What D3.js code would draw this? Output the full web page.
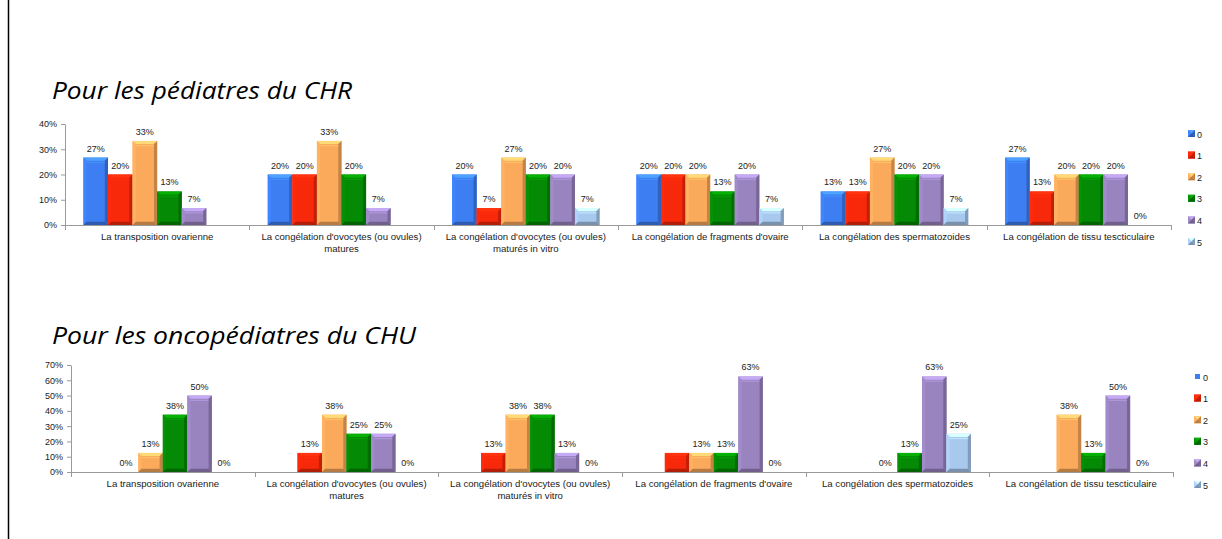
<!DOCTYPE html>
<html>
<head>
<meta charset="utf-8">
<script src="https://cdn.jsdelivr.net/npm/d3@7"></script>
<style>
  body { margin: 0; background: #fff; }
  svg { display: block; }
  .lbl { font-family: "Liberation Sans", Arial, sans-serif; font-size: 9px; fill: #222; }
  .cat { font-size: 9.6px; }
  .ttl { font-family: "Open Sans", Lato, sans-serif; font-style: italic; font-size: 23px; fill: #000; }
</style>
</head>
<body>
<div class="wrapper"></div>
<script>
const categories = [
  ["La transposition ovarienne"],
  ["La congélation d'ovocytes (ou ovules)", "matures"],
  ["La congélation d'ovocytes (ou ovules)", "maturés in vitro"],
  ["La congélation de fragments d'ovaire"],
  ["La congélation des spermatozoides"],
  ["La congélation de tissu tescticulaire"]
];

const series = ["0", "1", "2", "3", "4", "5"];
const colors = ["#3d7ef2", "#f8280a", "#fbaa5c", "#048a04", "#9a84c0", "#a8c8ee"];

// one row per category, one value per series (null = no bar, no label)
const chrValues = [
  [26.7, 20, 33.3, 13.3, 6.7, null],
  [20, 20, 33.3, 20, 6.7, null],
  [20, 6.7, 26.7, 20, 20, 6.7],
  [20, 20, 20, 13.3, 20, 6.7],
  [13.3, 13.3, 26.7, 20, 20, 6.7],
  [26.7, 13.3, 20, 20, 20, 0]
];

const chuValues = [
  [null, 0, 12.5, 37.5, 50, 0],
  [null, 12.5, 37.5, 25, 25, 0],
  [null, 12.5, 37.5, 37.5, 12.5, 0],
  [null, 12.5, 12.5, 12.5, 62.5, 0],
  [null, null, 0, 12.5, 62.5, 25],
  [null, null, 37.5, 12.5, 50, 0]
];
// labels that are not shown in the original ([category, series])
const chuHiddenLabels = [[3, 1]];

const chrTicks = [0, 10, 20, 30, 40];
const chuTicks = [0, 10, 20, 30, 40, 50, 60, 70];

const width = 1222, height = 539;

const svg = d3.select('.wrapper')
  .append('svg')
  .attr('width', width)
  .attr('height', height);

// left edge of the slide frame
svg.append('line')
  .attr('x1', 8.5).attr('x2', 8.5)
  .attr('y1', 0).attr('y2', height)
  .attr('stroke', '#000').attr('stroke-width', 1.5);

function bevelBar(g, x, y, w, h, c) {
  const b = Math.min(3.2, h / 2, w / 2);
  const col = d3.color(c);
  g.append('rect').attr('x', x).attr('y', y).attr('width', w).attr('height', h).attr('fill', c);
  if (h <= 0) return;
  const poly = (pts, fill) => g.append('polygon')
    .attr('points', pts.map(p => p.join(',')).join(' '))
    .attr('fill', fill);
  poly([[x, y], [x + w, y], [x + w - b, y + b], [x + b, y + b]], col.brighter(0.7));
  poly([[x, y], [x + b, y + b], [x + b, y + h - b], [x, y + h]], col.brighter(0.15));
  poly([[x + w, y], [x + w, y + h], [x + w - b, y + h - b], [x + w - b, y + b]], col.darker(0.7));
  poly([[x, y + h], [x + w, y + h], [x + w - b, y + h - b], [x + b, y + h - b]], col.darker(0.9));
  // soft shine line below the top bevel
  if (h > 8) {
    g.append('rect').attr('x', x + b).attr('y', y + b + 1).attr('width', w - 2 * b).attr('height', 1.2)
      .attr('fill', col.brighter(0.5)).attr('opacity', 0.7);
  }
}

function drawChart(opt) {
  const g = svg.append('g');

  const t = g.append('text')
    .attr('class', 'ttl')
    .attr('x', 52)
    .attr('y', opt.titleY)
    .text(opt.title);
  // the original title is set in a narrow italic; stretch to its width
  t.attr('textLength', opt.titleWidth).attr('lengthAdjust', 'spacingAndGlyphs');

  const x0 = d3.scaleBand()
    .domain(d3.range(categories.length))
    .range([opt.left, opt.right]);

  const x1 = d3.scaleBand()
    .domain(d3.range(series.length))
    .range([0, x0.bandwidth()])
    .paddingOuter(0.75);

  const y = d3.scaleLinear()
    .domain([0, d3.max(opt.ticks)])
    .range([opt.bottom, opt.top]);

  // y axis
  const yAxis = g.append('g')
    .attr('transform', `translate(${opt.left},0)`)
    .call(d3.axisLeft(y).tickValues(opt.ticks).tickFormat(d => d + '%').tickSize(4).tickPadding(4).tickSizeOuter(0));
  yAxis.select('.domain').attr('stroke', '#9a9a9a');
  yAxis.selectAll('.tick line').attr('stroke', '#9a9a9a');
  yAxis.selectAll('.tick text').attr('class', 'lbl').attr('font-size', null).attr('font-family', null).attr('fill', null);

  // x axis line + ticks at category boundaries
  const xa = g.append('g');
  xa.append('line')
    .attr('x1', opt.left).attr('x2', opt.right)
    .attr('y1', opt.bottom + 0.5).attr('y2', opt.bottom + 0.5)
    .attr('stroke', '#9a9a9a');
  xa.selectAll('line.tk')
    .data(d3.range(categories.length + 1))
    .join('line')
    .attr('class', 'tk')
    .attr('x1', i => Math.round(opt.left + i * x0.step()) + 0.5)
    .attr('x2', i => Math.round(opt.left + i * x0.step()) + 0.5)
    .attr('y1', opt.bottom)
    .attr('y2', opt.bottom + 5)
    .attr('stroke', '#9a9a9a');

  xa.selectAll('text.cat')
    .data(categories.flatMap((lines, i) => lines.map((t, j) => ({ t, i, j }))))
    .join('text')
    .attr('class', 'lbl cat')
    .attr('text-anchor', 'middle')
    .attr('x', d => x0(d.i) + x0.bandwidth() / 2)
    .attr('y', d => opt.bottom + 15 + d.j * 12)
    .text(d => d.t);

  // bars
  const points = [];
  opt.values.forEach((row, i) => row.forEach((v, s) => {
    if (v !== null) points.push({ i, s, v });
  }));

  const bars = g.append('g');
  points.forEach(p => {
    const bx = x0(p.i) + x1(p.s);
    const by = y(p.v);
    bevelBar(bars, bx, by, x1.bandwidth(), opt.bottom - by, colors[p.s]);
  });

  const hidden = new Set(opt.hidden.map(h => h.join('-')));
  g.append('g')
    .selectAll('text')
    .data(points.filter(p => !hidden.has(p.i + '-' + p.s)))
    .join('text')
    .attr('class', 'lbl')
    .attr('text-anchor', 'middle')
    .attr('x', p => x0(p.i) + x1(p.s) + x1.bandwidth() / 2)
    .attr('y', p => y(p.v) - 6)
    .text(p => Math.round(p.v) + '%');

  // legend
  const lg = g.append('g');
  series.forEach((s, k) => {
    const ly = opt.legendY + k * 21.6;
    const used = opt.values.some(r => r[k] !== null && r[k] > 0);
    if (used) {
      bevelBar(lg, opt.legendX, ly - 4, 7, 7, colors[k]);
    } else {
      lg.append('rect').attr('x', opt.legendX + 1).attr('y', ly - 3).attr('width', 5).attr('height', 5).attr('fill', colors[k]);
    }
    lg.append('text')
      .attr('class', 'lbl')
      .attr('x', opt.legendX + 9)
      .attr('y', ly + 3.5)
      .text(s);
  });
}

drawChart({
  title: 'Pour les pédiatres du CHR',
  titleY: 99,
  titleWidth: 300,
  values: chrValues,
  hidden: [],
  ticks: chrTicks,
  left: 65, right: 1171,
  top: 124, bottom: 225,
  legendX: 1188, legendY: 134
});

drawChart({
  title: 'Pour les oncopédiatres du CHU',
  titleY: 344,
  titleWidth: 364,
  values: chuValues,
  hidden: chuHiddenLabels,
  ticks: chuTicks,
  left: 71, right: 1173,
  top: 365, bottom: 472,
  legendX: 1194, legendY: 377
});
</script>
</body>
</html>
